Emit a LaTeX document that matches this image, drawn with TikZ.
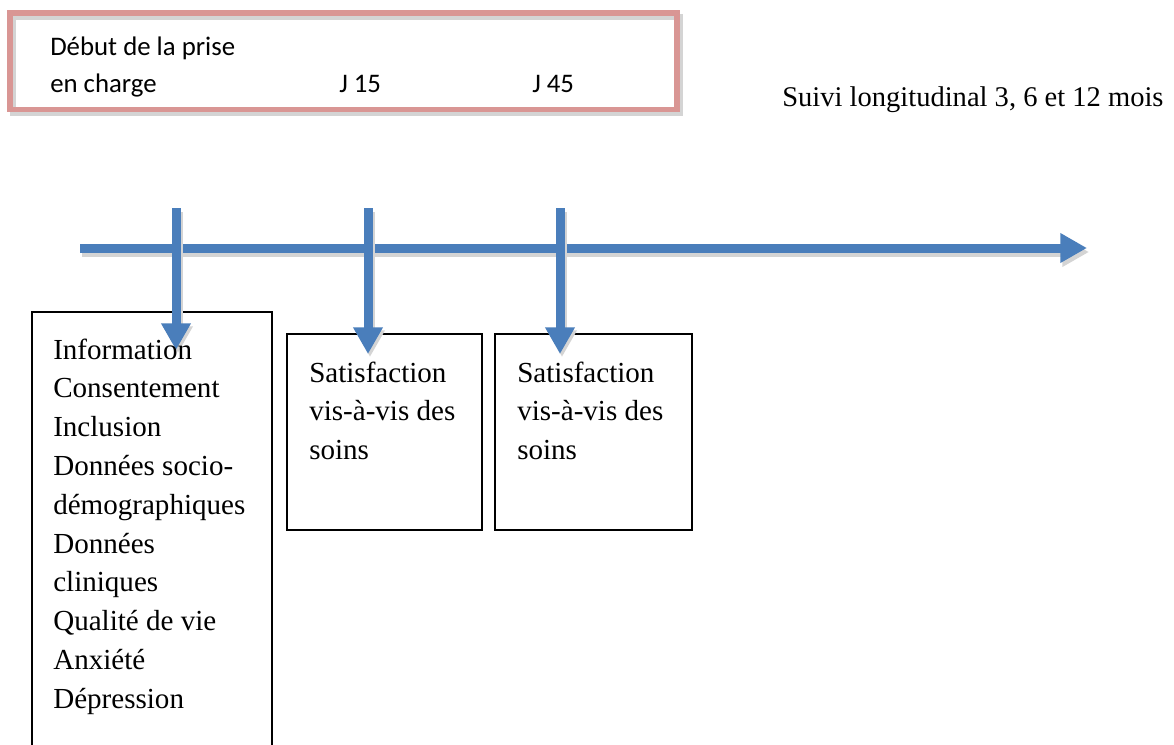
\documentclass[tikz,border=0pt]{standalone}
\usepackage{fontspec}
\setmainfont{Liberation Serif}
\newfontfamily\calfont{Carlito}
\usetikzlibrary{arrows.meta,fit}
\definecolor{tlblue}{HTML}{4A7EBB}
\definecolor{tlpink}{HTML}{D99694}
\definecolor{tlshadow}{HTML}{D4D4D4}
\tikzset{
  arr/.style={line width=6.75pt, color=tlblue, -{Triangle[width=21pt,length=20pt]}},
  arrshadow/.style={line width=6.75pt, color=tlshadow, -{Triangle[width=21pt,length=20pt]}},
  infobox/.style={draw=black, line width=1.2pt, inner sep=0pt},
  sertext/.style={anchor=base west, inner sep=0pt, font=\fontsize{21.8}{29.1}\selectfont},
  caltext/.style={anchor=base west, inner sep=0pt, font=\calfont\fontsize{20.1}{24}\selectfont},
}
\begin{document}
\begin{tikzpicture}[x=0.75pt,y=-0.75pt]
\clip (0,0) rectangle (1174,744);
\fill[white] (0,0) rectangle (1174,744);

% top frame
\draw[tlshadow, line width=4pt] (13,17) rectangle (680,113);
\node[draw=tlpink, line width=3.8pt, inner sep=0pt, fit={(10,13) (677,109.5)}] (frame) {};
\node[caltext] (debut) at (50,55) {Début de la prise};
\node[caltext] (charge) at (50,92) {en charge};
\node[caltext] (j15) at (339,92) {J 15};
\node[caltext] (j45) at (532,92) {J 45};

\node[anchor=base west, inner sep=0pt, font=\fontsize{21.4}{29}\selectfont] (suivi) at (782,106) {Suivi longitudinal 3, 6 et 12 mois};

% boxes
\node[infobox, fit={(32,312) (272,760)}] (b1) {};
\node[infobox, fit={(287,334) (482,530)}] (b2) {};
\node[infobox, fit={(495,334) (692,530)}] (b3) {};

% timeline
\coordinate (ts) at (80,248);
\coordinate (te) at (1087,248);
\coordinate (tss) at (82,252);
\coordinate (tes) at (1089,252);
\draw[arrshadow] (tss) -- (tes);
\draw[arr] (ts) -- (te);

% vertical arrows
\coordinate (v1a) at (176,208);
\coordinate (v1b) at (176,350);
\coordinate (v2a) at (368,208);
\coordinate (v2b) at (368,354);
\coordinate (v3a) at (560,208);
\coordinate (v3b) at (560,354);
\coordinate (v1as) at (178,212);
\coordinate (v1bs) at (178,353);
\coordinate (v2as) at (370,212);
\coordinate (v2bs) at (370,357);
\coordinate (v3as) at (562,212);
\coordinate (v3bs) at (562,357);
\draw[arrshadow] (v1as) -- (v1bs);
\draw[arrshadow] (v2as) -- (v2bs);
\draw[arrshadow] (v3as) -- (v3bs);
\draw[arr] (v1a) -- (v1b);
\draw[arr] (v2a) -- (v2b);
\draw[arr] (v3a) -- (v3b);

% box texts
\foreach \txt [count=\i from 0] in {Information,Consentement,Inclusion,Données socio-,démographiques,Données,cliniques,Qualité de vie,Anxiété,Dépression}
  \node[sertext] (t1-\i) at (53,359+38.8*\i) {\txt};
\foreach \txt [count=\i from 0] in {Satisfaction,vis-à-vis des,soins} {
  \node[sertext] (t2-\i) at (309,382+38.8*\i) {\txt};
  \node[sertext] (t3-\i) at (517,382+38.8*\i) {\txt};
}
\end{tikzpicture}
\end{document}
